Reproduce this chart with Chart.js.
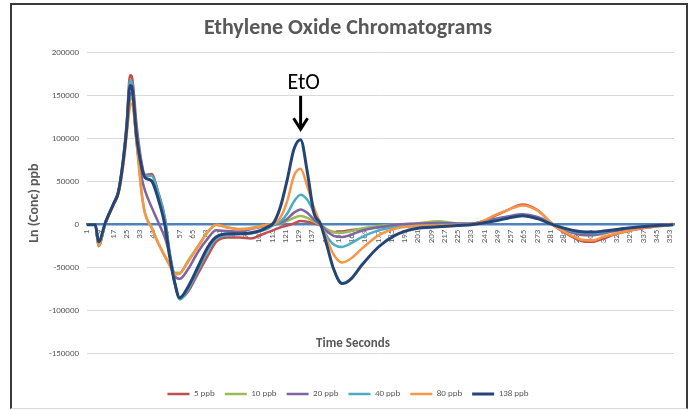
<!DOCTYPE html>
<html>
<head>
<meta charset="utf-8">
<title>Ethylene Oxide Chromatograms</title>
<script src="https://cdn.jsdelivr.net/npm/chart.js@4.4.6/dist/chart.umd.min.js"></script>
<style>
  html, body { margin: 0; padding: 0; background: #fff; }
  #wrap { position: relative; width: 693px; height: 410px; }
  #frame {
    position: absolute; left: 10px; top: 3px; width: 678px; height: 406px;
    border: 2px solid #3a3a3a; border-bottom: 1px solid #d9d9d9;
    box-sizing: border-box; pointer-events: none;
  }
</style>
</head>
<body>
<div id="wrap">
  <canvas id="chart" width="693" height="410"></canvas>
  <div id="frame"></div>
</div>
<script>
// Ethylene oxide chromatograms, six concentrations.

const FONT = "Carlito, Calibri, Lato, sans-serif";

// time (s) of each sample
const TIMES = [1, 6, 8, 12, 17, 20, 23, 25, 27, 28,
  31, 34, 36, 40, 44, 48, 51, 54, 57, 62,
  68, 74, 79, 86, 93, 100, 106, 110, 114, 118,
  122, 126, 130, 134, 138, 142, 146, 150, 155, 160,
  167, 177, 187, 199, 213, 225, 233, 240, 247, 255,
  264, 273, 283, 292, 300, 306, 313, 320, 334, 345,
  355];

const TICK_LABELS = [1, 9, 17, 25, 33, 41, 49, 57, 65, 73, 81, 89, 97, 105, 113,
  121, 129, 137, 145, 153, 161, 169, 177, 185, 193, 201, 209, 217, 225, 233,
  241, 249, 257, 265, 273, 281, 289, 297, 305, 313, 321, 329, 337, 345, 353];

const SERIES_NAMES = ["5 ppb", "10 ppb", "20 ppb", "40 ppb", "80 ppb", "138 ppb"];
const SERIES_COLORS = ["#C0504D", "#9BBB59", "#8064A2", "#4BACC6", "#F79646", "#254576"];

const PPB_5 = [0, 0, -25000, 2000, 25000, 40000, 80000, 120000, 174000, 173000,
  115000, 72000, 58000, 59000, 38000, 8000, -35000, -68000, -86000, -78000,
  -57000, -36000, -20000, -15000, -15000, -16000, -12000, -9000, -6000, -3000,
  -1000, 1500, 4200, 3500, 1500, -1000, -6000, -8600, -8000, -6500,
  -5000, -3000, -1500, -500, 500, 500, 1000, 4000, 10000, 17000,
  23500, 17000, -1000, -12000, -19000, -20000, -16000, -11000, -5000, -2000,
  0];
const PPB_10 = [0, 0, -25000, 1000, 24000, 37000, 74000, 110000, 145000, 147000,
  97000, 38000, 14000, -3000, -21000, -36000, -46000, -56000, -56000, -42000,
  -25000, -8000, -500, -3000, -5000, -4000, -1500, 0, 0, 1500,
  4500, 8000, 10000, 8000, 3500, 0, -5500, -9000, -9300, -7500,
  -4500, -1500, 0, 1000, 4000, 1500, 1000, 3500, 6000, 9000,
  11000, 8500, 0, -8000, -11500, -12000, -10000, -7000, -3500, -1500,
  0];
const PPB_20 = [0, 0, -24000, 1000, 24000, 38000, 76000, 114000, 152000, 154000,
  95000, 55000, 40000, 20500, 3000, -15000, -35000, -60000, -63000, -52000,
  -31800, -16000, -6600, -7500, -8000, -5000, -2800, -1500, 0, 2000,
  7000, 14000, 17800, 14000, 6000, 0, -8000, -13000, -14400, -12000,
  -7000, -3000, 0, 1200, 2000, 1500, 1000, 3500, 6500, 9500,
  12000, 9000, 0, -8000, -12000, -12400, -10000, -7000, -3500, -1000,
  0];
const PPB_40 = [0, 0, -24000, 1000, 24000, 38000, 76000, 115000, 168000, 166000,
  108000, 70000, 57000, 57000, 37000, 8000, -33000, -66000, -87000, -76000,
  -53000, -30000, -16000, -12500, -11000, -10500, -7500, -5000, 0, 4000,
  13000, 27000, 34900, 29000, 15000, 0, -14000, -23000, -26000, -22000,
  -14400, -6600, -3000, -1500, -500, 0, 500, 2500, 5000, 8000,
  10500, 7500, 0, -6500, -9500, -10000, -8500, -6000, -3000, -1000,
  0];
const PPB_80 = [0, 0, -24000, 1000, 23000, 36000, 70000, 105000, 138000, 140700,
  94500, 36000, 13000, -4000, -22000, -37000, -48000, -58000, -57000, -43500,
  -26000, -8600, 0, -3500, -5500, -4600, -2000, 0, 1000, 9000,
  28000, 57000, 65000, 45000, 20000, 1000, -18000, -35000, -44000, -40000,
  -27900, -12400, -4700, -1500, -1000, -500, 0, 4000, 10800, 17000,
  22400, 16600, -1000, -11000, -17500, -18300, -14000, -10500, -4700, -1500,
  1000];
const PPB_138 = [0, 0, -20000, 2000, 24000, 38000, 76000, 113000, 162000, 161000,
  102000, 67000, 55000, 51000, 30000, 0, -38000, -68000, -85000, -72500,
  -49300, -26000, -14400, -10500, -10500, -9500, -6600, -2800, 3000, 22000,
  53000, 88000, 99000, 62000, 14000, 1000, -25000, -52000, -68600, -64000,
  -47000, -26000, -12400, -4700, -2500, -1000, 0, 2000, 4200, 7500,
  10500, 7000, -500, -5500, -8300, -8600, -7500, -5800, -2800, -1000,
  0];

const SERIES_VALUES = [PPB_5, PPB_10, PPB_20, PPB_40, PPB_80, PPB_138];

// EtO marker: label and arrow, in data units
const ETO_LABEL = "EtO";
const ETO_TIME = 130;
const ETO_TEXT_BASE = 158500;
const ETO_ARROW = [150000, 110000];
const X_TITLE = "Time Seconds";

const datasets = SERIES_NAMES.map((name, i) => ({
  label: name,
  data: TIMES.map((t, k) => ({ x: t, y: SERIES_VALUES[i][k] })),
  borderColor: SERIES_COLORS[i],
  backgroundColor: SERIES_COLORS[i],
  borderWidth: i === 5 ? 3 : 2.5,
  pointRadius: 0,
  fill: false,
  cubicInterpolationMode: "monotone",
  order: SERIES_NAMES.length - i,   // last series drawn on top, like Excel
}));

const overlay = {
  id: "overlay",
  afterDraw(chart) {
    const { ctx, chartArea, scales: { x, y } } = chart;
    ctx.save();
    // axis title sits inside the plot in the original
    ctx.fillStyle = "#595959";
    ctx.font = `bold 13px ${FONT}`;
    ctx.textAlign = "center";
    ctx.textBaseline = "middle";
    ctx.fillText(X_TITLE, 353, chartArea.bottom - 10);

    // EtO label + arrow
    const px = x.getPixelForValue(ETO_TIME);
    ctx.fillStyle = "#000";
    ctx.font = `22px ${FONT}`;
    ctx.textBaseline = "alphabetic";
    ctx.fillText(ETO_LABEL, px + 3, y.getPixelForValue(ETO_TEXT_BASE));

    const top = y.getPixelForValue(ETO_ARROW[0]);
    const tip = y.getPixelForValue(ETO_ARROW[1]);
    ctx.strokeStyle = "#000";
    ctx.lineWidth = 3;
    ctx.beginPath();
    ctx.moveTo(px, top);
    ctx.lineTo(px, tip - 2);
    ctx.stroke();
    ctx.beginPath();
    ctx.moveTo(px - 7, tip - 12);
    ctx.lineTo(px, tip - 1);
    ctx.lineTo(px + 7, tip - 12);
    ctx.stroke();
    ctx.restore();
  },
};

Chart.defaults.font.family = FONT;

new Chart(document.getElementById("chart"), {
  type: "line",
  data: { datasets },
  options: {
    responsive: false,
    animation: false,
    layout: { padding: { left: 22, right: 19, top: 0, bottom: 1.5 } },
    scales: {
      x: {
        type: "linear",
        min: 1,
        max: 355.5,
        position: { y: 0 },
        grid: { display: false, drawTicks: false },
        border: { display: true, color: "#4F81BD", width: 2.5 },
        afterBuildTicks: (s) => { s.ticks = TICK_LABELS.map(v => ({ value: v })); },
        ticks: {
          autoSkip: false, maxRotation: 90, minRotation: 90, padding: 5,
          color: "#595959", font: { size: 9 },
          callback: (v) => String(v),
        },
      },
      y: {
        min: -150000,
        max: 200000,
        afterFit: (s) => { s.width = 65; },
        grid: { color: "#D9D9D9", lineWidth: 1, drawTicks: false },
        border: { display: false },
        ticks: {
          stepSize: 50000, padding: 8, color: "#595959", font: { size: 9 },
          callback: (v) => String(v),
        },
        title: {
          display: true, text: "Ln (Conc) ppb", color: "#595959",
          font: { size: 14, weight: "bold" }, padding: { top: 4, bottom: 0 },
        },
      },
    },
    plugins: {
      title: {
        display: true,
        text: "Ethylene Oxide Chromatograms",
        color: "#595959",
        font: { size: 22, weight: "bold" },
        padding: { top: 15, bottom: 11.5 },
      },
      legend: {
        position: "bottom",
        title: { display: true, text: "", font: { size: 10 }, padding: { top: 14, bottom: 0 } },
        labels: {
          usePointStyle: true,
          pointStyle: "line",
          pointStyleWidth: 22,
          boxHeight: 3,
          padding: 10,
          color: "#595959",
          font: { size: 9 },
          sort: (a, b) => a.datasetIndex - b.datasetIndex,
        },
      },
      tooltip: { enabled: false },
    },
  },
  plugins: [overlay],
});
</script>
</body>
</html>
